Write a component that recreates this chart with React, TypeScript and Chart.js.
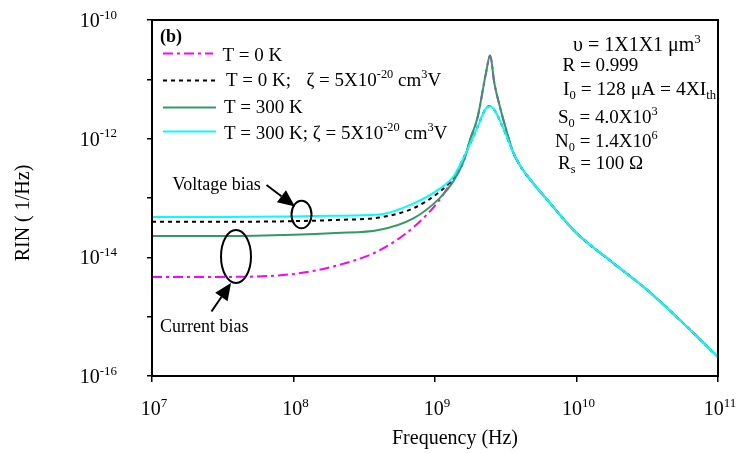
import React, { useEffect, useRef } from 'react';
import { Chart, registerables } from 'chart.js';

Chart.register(...registerables);

// Frequency grid (Hz)
const freq = [1e7, 3.16e7, 1e8, 2e8, 4e8, 7.08e8, 1.07e9, 1.35e9, 1.58e9, 1.78e9, 2.0e9, 2.29e9, 2.45e9, 2.63e9, 2.88e9, 3.16e9, 3.55e9, 3.98e9, 5.01e9, 6.31e9, 1e10, 1.78e10, 3.16e10, 5.62e10, 1e11];

// RIN (1/Hz) values
const rinT0 = [4.68e-15, 4.68e-15, 5.25e-15, 7.24e-15, 1.29e-14, 3.24e-14, 9.12e-14, 2.14e-13, 3.89e-13, 1.0e-12, 2.29e-12, 1.26e-11, 2.51e-11, 8.51e-12, 3.39e-12, 1.51e-12, 6.03e-13, 3.55e-13, 1.7e-13, 8.91e-14, 2.57e-14, 8.32e-15, 2.82e-15, 7.94e-16, 2.09e-16];
const rinT0Zeta = [3.98e-14, 3.98e-14, 4.07e-14, 4.27e-14, 4.68e-14, 6.76e-14, 1.26e-13, 2.19e-13, 4.57e-13, 8.51e-13, 1.58e-12, 3.24e-12, 3.55e-12, 3.02e-12, 2.0e-12, 1.2e-12, 6.03e-13, 3.55e-13, 1.7e-13, 8.91e-14, 2.57e-14, 8.32e-15, 2.82e-15, 7.94e-16, 2.09e-16];
const rinT300 = [2.29e-14, 2.29e-14, 2.4e-14, 2.57e-14, 2.88e-14, 4.57e-14, 9.77e-14, 1.91e-13, 3.98e-13, 1.0e-12, 2.29e-12, 1.26e-11, 2.51e-11, 8.51e-12, 3.39e-12, 1.51e-12, 6.03e-13, 3.55e-13, 1.7e-13, 8.91e-14, 2.57e-14, 8.32e-15, 2.82e-15, 7.94e-16, 2.09e-16];
const rinT300Zeta = [4.79e-14, 4.79e-14, 4.9e-14, 5.01e-14, 5.25e-14, 8.13e-14, 1.41e-13, 2.29e-13, 4.57e-13, 8.51e-13, 1.58e-12, 3.24e-12, 3.55e-12, 3.02e-12, 2.0e-12, 1.2e-12, 6.03e-13, 3.55e-13, 1.7e-13, 8.91e-14, 2.57e-14, 8.32e-15, 2.82e-15, 7.94e-16, 2.09e-16];

// Tick exponents
const xTickExps = [7, 8, 9, 10, 11];
const yTickExps = [-16, -15, -14, -13, -12, -11, -10];
const yLabelExps = [-16, -14, -12, -10];

const SERIF = '"Liberation Serif", "Times New Roman", Times, serif';

type Part = { t: string; s?: 'sup' | 'sub' };

function richWidth(ctx: CanvasRenderingContext2D, parts: Part[], size: number, weight = '') {
  let w = 0;
  for (const p of parts) {
    ctx.font = `${weight} ${p.s ? size * 0.65 : size}px ${SERIF}`;
    w += ctx.measureText(p.t).width;
  }
  return w;
}

function drawRich(
  ctx: CanvasRenderingContext2D,
  parts: Part[],
  x: number,
  y: number,
  size: number,
  align: 'left' | 'center' | 'right' = 'left',
  weight = ''
) {
  const w = richWidth(ctx, parts, size, weight);
  let cx = align === 'left' ? x : align === 'right' ? x - w : x - w / 2;
  ctx.textAlign = 'left';
  ctx.textBaseline = 'alphabetic';
  ctx.fillStyle = '#000';
  for (const p of parts) {
    ctx.font = `${weight} ${p.s ? size * 0.65 : size}px ${SERIF}`;
    const dy = p.s === 'sup' ? -size * 0.42 : p.s === 'sub' ? size * 0.22 : 0;
    ctx.fillText(p.t, cx, y + dy);
    cx += ctx.measureText(p.t).width;
  }
  return cx;
}

function arrow(ctx: CanvasRenderingContext2D, x1: number, y1: number, x2: number, y2: number) {
  const ang = Math.atan2(y2 - y1, x2 - x1);
  const len = 17;
  const hw = 7.5;
  const bx = x2 - len * Math.cos(ang);
  const by = y2 - len * Math.sin(ang);
  ctx.beginPath();
  ctx.moveTo(x1, y1);
  ctx.lineTo(bx, by);
  ctx.lineWidth = 2;
  ctx.strokeStyle = '#000';
  ctx.stroke();
  ctx.beginPath();
  ctx.moveTo(x2, y2);
  ctx.lineTo(bx + hw * Math.sin(ang), by - hw * Math.cos(ang));
  ctx.lineTo(bx - hw * Math.sin(ang), by + hw * Math.cos(ang));
  ctx.closePath();
  ctx.fillStyle = '#000';
  ctx.fill();
}

function ellipse(ctx: CanvasRenderingContext2D, cx: number, cy: number, rx: number, ry: number) {
  ctx.beginPath();
  ctx.ellipse(cx, cy, rx, ry, 0, 0, Math.PI * 2);
  ctx.lineWidth = 2;
  ctx.strokeStyle = '#000';
  ctx.stroke();
}

function legendLine(ctx: CanvasRenderingContext2D, x1: number, x2: number, y: number, color: string, dash: number[]) {
  ctx.save();
  ctx.beginPath();
  ctx.setLineDash(dash);
  ctx.moveTo(x1, y);
  ctx.lineTo(x2, y);
  ctx.lineWidth = 2;
  ctx.strokeStyle = color;
  ctx.stroke();
  ctx.restore();
}

const decorPlugin = {
  id: 'decor',
  afterDraw(chart: any) {
    const ctx: CanvasRenderingContext2D = chart.ctx;
    const { left, top, right, bottom } = chart.chartArea;
    const xs = chart.scales.x;
    const ys = chart.scales.y;
    ctx.save();
    // frame
    ctx.lineWidth = 2;
    ctx.strokeStyle = '#000';
    ctx.strokeRect(left, top, right - left, bottom - top);

    // y tick labels
    for (const e of yLabelExps) {
      const y = ys.getPixelForValue(Number('1e' + e));
      drawRich(ctx, [{ t: '10' }, { t: String(e), s: 'sup' }], 117, y + 7, 20, 'right');
    }
    // x tick labels
    for (const e of xTickExps) {
      const x = xs.getPixelForValue(Number('1e' + e));
      drawRich(ctx, [{ t: '10' }, { t: String(e), s: 'sup' }], x + 2, 415, 20, 'center');
    }
    // axis titles
    drawRich(ctx, [{ t: 'Frequency (Hz)' }], (left + right) / 2 + 20, 444, 20, 'center');
    ctx.save();
    ctx.translate(23, 213);
    ctx.rotate(-Math.PI / 2);
    drawRich(ctx, [{ t: 'RIN ( 1/Hz)' }], 0, 6, 20, 'center');
    ctx.restore();

    // panel label
    drawRich(ctx, [{ t: '(b)' }], 160, 42, 18, 'left', 'bold');

    // legend
    legendLine(ctx, 163, 213, 53.5, '#ff00ff', [10, 4, 3, 4]);
    drawRich(ctx, [{ t: 'T = 0 K' }], 222.5, 60.5, 19);
    legendLine(ctx, 163, 217, 80.5, '#000000', [4, 4]);
    drawRich(ctx, [{ t: 'T = 0 K;' }], 226, 86, 19);
    drawRich(ctx, [{ t: 'ζ = 5X10' }, { t: '-20', s: 'sup' }, { t: ' cm' }, { t: '3', s: 'sup' }, { t: 'V' }], 306.5, 86, 19);
    legendLine(ctx, 163, 216, 107.5, '#339966', []);
    drawRich(ctx, [{ t: 'T = 300 K' }], 224, 113, 19);
    legendLine(ctx, 163, 216, 131.5, '#00ffff', []);
    drawRich(ctx, [{ t: 'T = 300 K; ζ = 5X10' }, { t: '-20', s: 'sup' }, { t: ' cm' }, { t: '3', s: 'sup' }, { t: 'V' }], 224, 138.5, 19);

    // parameter box text
    drawRich(ctx, [{ t: 'υ = 1X1X1 μm' }, { t: '3', s: 'sup' }], 573, 51, 20);
    drawRich(ctx, [{ t: 'R = 0.999' }], 562.5, 70.5, 19);
    drawRich(ctx, [{ t: 'I' }, { t: '0', s: 'sub' }, { t: ' = 128 μA = 4XI' }, { t: 'th', s: 'sub' }], 563, 95, 19.5);
    drawRich(ctx, [{ t: 'S' }, { t: '0', s: 'sub' }, { t: ' = 4.0X10' }, { t: '3', s: 'sup' }], 558, 123, 19);
    drawRich(ctx, [{ t: 'N' }, { t: '0', s: 'sub' }, { t: ' = 1.4X10' }, { t: '6', s: 'sup' }], 555, 147, 19);
    drawRich(ctx, [{ t: 'R' }, { t: 's', s: 'sub' }, { t: ' = 100 Ω' }], 558, 169, 19);

    // annotations
    drawRich(ctx, [{ t: 'Voltage bias' }], 172.5, 190, 18);
    arrow(ctx, 266.5, 185, 295, 206.5);
    ellipse(ctx, 301.5, 214.5, 10, 13.8);
    ellipse(ctx, 236, 256.5, 15, 26.5);
    arrow(ctx, 211.5, 311.5, 231, 283);
    drawRich(ctx, [{ t: 'Current bias' }], 160, 332, 18);

    ctx.restore();
  },
};

function series(vals: number[]) {
  return freq.map((x, i) => ({ x, y: vals[i] }));
}

export default function App() {
  const ref = useRef<HTMLCanvasElement | null>(null);

  useEffect(() => {
    document.body.style.margin = '0';
    const canvas = ref.current;
    if (!canvas) return;
    const common = {
      pointRadius: 0,
      borderWidth: 2,
      fill: false,
      cubicInterpolationMode: 'monotone' as const,
    };
    const chart = new Chart(canvas, {
      type: 'line',
      data: {
        datasets: [
          { ...common, label: 'T = 300 K; ζ = 5X10-20 cm3V', data: series(rinT300Zeta), borderColor: '#00ffff', order: 0 },
          { ...common, label: 'T = 300 K', data: series(rinT300), borderColor: '#339966', order: 1 },
          { ...common, label: 'T = 0 K; ζ = 5X10-20 cm3V', data: series(rinT0Zeta), borderColor: '#000000', borderDash: [4, 4], order: 2 },
          { ...common, label: 'T = 0 K', data: series(rinT0), borderColor: '#ff00ff', borderDash: [10, 4, 3, 4], order: 3 },
        ],
      },
      options: {
        responsive: false,
        animation: false,
        layout: { padding: { left: 0, top: 20, right: 20, bottom: 0 } },
        plugins: { legend: { display: false }, tooltip: { enabled: false }, title: { display: false } },
        scales: {
          x: {
            type: 'logarithmic',
            min: 1e7,
            max: 1e11,
            afterBuildTicks: (s: any) => {
              s.ticks = xTickExps.map((e) => ({ value: Number('1e' + e) }));
            },
            afterFit: (s: any) => {
              s.height = 77;
            },
            ticks: { display: false },
            grid: { drawOnChartArea: false, drawTicks: true, tickLength: 6, color: '#000', lineWidth: 1.5 },
            border: { display: false },
          },
          y: {
            type: 'logarithmic',
            min: 1e-16,
            max: 1e-10,
            afterBuildTicks: (s: any) => {
              s.ticks = yTickExps.map((e) => ({ value: Number('1e' + e) }));
            },
            afterFit: (s: any) => {
              s.width = 152;
            },
            ticks: { display: false },
            grid: { drawOnChartArea: false, drawTicks: true, tickLength: 5, color: '#000', lineWidth: 1.5 },
            border: { display: false },
          },
        },
      },
      plugins: [decorPlugin],
    });
    return () => chart.destroy();
  }, []);

  return (
    <div style={{ position: 'absolute', left: 0, top: 0, width: 738, height: 453, background: '#fff' }}>
      <canvas ref={ref} width={738} height={453} />
    </div>
  );
}
